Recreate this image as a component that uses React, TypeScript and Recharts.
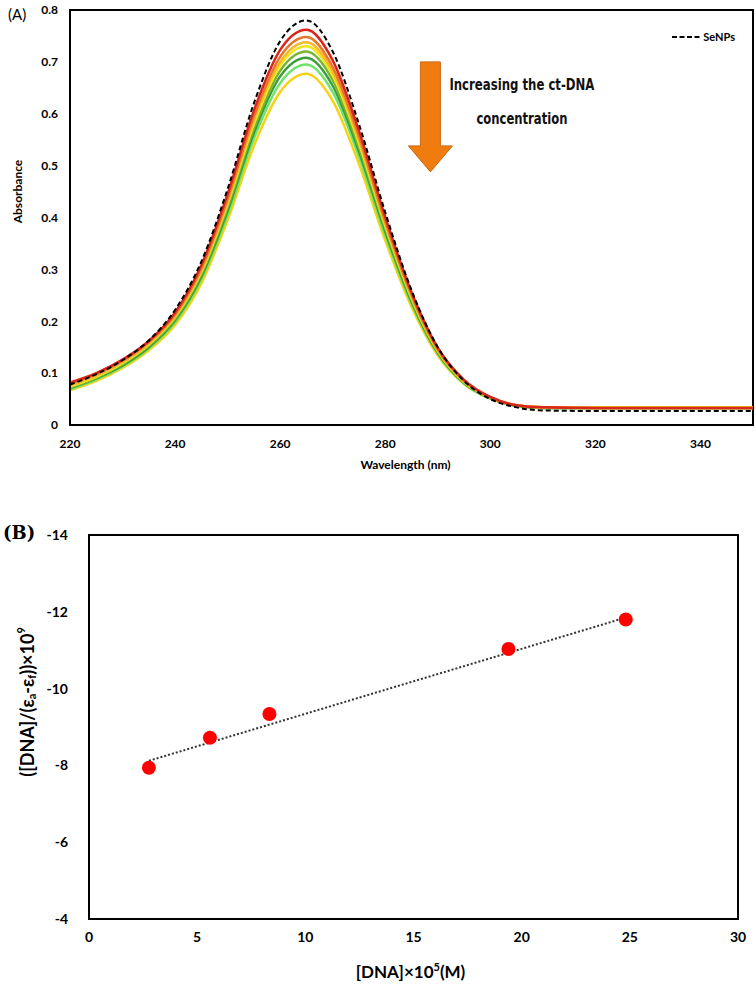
import React from 'react';
import {
  LineChart, Line, XAxis, YAxis, ReferenceArea, ReferenceDot, Legend,
  ComposedChart, Scatter,
} from 'recharts';

// ---------- Panel A data ----------
const wavelengths = [220, 225, 230, 235, 240, 245, 250, 255, 260, 265, 270, 275, 280, 285, 290, 295, 300, 305, 310, 320, 330, 340, 350];
const seNPs =      [0.078, 0.098, 0.125, 0.163, 0.222, 0.315, 0.455, 0.620, 0.740, 0.780, 0.720, 0.580, 0.410, 0.260, 0.150, 0.085, 0.050, 0.034, 0.028, 0.027, 0.027, 0.027, 0.027];
const dna1 =       [0.082, 0.100, 0.126, 0.162, 0.217, 0.308, 0.445, 0.606, 0.723, 0.762, 0.703, 0.567, 0.401, 0.256, 0.149, 0.087, 0.054, 0.038, 0.034, 0.033, 0.033, 0.033, 0.033];
const dna2 =       [0.080, 0.098, 0.124, 0.160, 0.213, 0.302, 0.436, 0.595, 0.710, 0.748, 0.690, 0.556, 0.393, 0.251, 0.146, 0.085, 0.053, 0.038, 0.034, 0.033, 0.033, 0.033, 0.033];
const dna3 =       [0.076, 0.095, 0.121, 0.157, 0.210, 0.298, 0.430, 0.587, 0.700, 0.738, 0.681, 0.549, 0.388, 0.248, 0.144, 0.084, 0.053, 0.038, 0.034, 0.033, 0.033, 0.033, 0.033];
const dna4 =       [0.074, 0.093, 0.119, 0.155, 0.208, 0.295, 0.426, 0.580, 0.693, 0.730, 0.674, 0.543, 0.384, 0.245, 0.143, 0.083, 0.053, 0.038, 0.034, 0.034, 0.034, 0.034, 0.034];
const dna5 =       [0.072, 0.091, 0.117, 0.153, 0.205, 0.291, 0.420, 0.572, 0.683, 0.720, 0.665, 0.535, 0.379, 0.242, 0.141, 0.082, 0.052, 0.037, 0.033, 0.033, 0.033, 0.033, 0.033];
const dna6 =       [0.071, 0.090, 0.115, 0.150, 0.202, 0.286, 0.413, 0.563, 0.672, 0.708, 0.654, 0.527, 0.373, 0.238, 0.139, 0.081, 0.052, 0.037, 0.033, 0.033, 0.033, 0.033, 0.033];
const dna7 =       [0.069, 0.088, 0.113, 0.148, 0.198, 0.281, 0.405, 0.552, 0.659, 0.695, 0.642, 0.517, 0.366, 0.234, 0.137, 0.080, 0.051, 0.037, 0.033, 0.033, 0.033, 0.033, 0.033];
const dna8 =       [0.067, 0.085, 0.110, 0.144, 0.193, 0.273, 0.395, 0.538, 0.642, 0.677, 0.625, 0.503, 0.356, 0.228, 0.134, 0.079, 0.051, 0.037, 0.034, 0.034, 0.034, 0.034, 0.034];

const wlTicks = [220, 240, 260, 280, 300, 320, 340];
const absTicks = [0, 0.1, 0.2, 0.3, 0.4, 0.5, 0.6, 0.7, 0.8];

const seriesA = [
  { key: 'dna8', values: dna8, color: '#f5d312' },
  { key: 'dna7', values: dna7, color: '#6fe36a' },
  { key: 'dna6', values: dna6, color: '#3c9e3a' },
  { key: 'dna5', values: dna5, color: '#78b534' },
  { key: 'dna4', values: dna4, color: '#f2e41e' },
  { key: 'dna3', values: dna3, color: '#f5b92a' },
  { key: 'dna2', values: dna2, color: '#e8772c' },
  { key: 'dna1', values: dna1, color: '#d8261c' },
];

const dataA = wavelengths.map((wl, i) => {
  const row: any = { wl, seNPs: seNPs[i] };
  seriesA.forEach((s) => { row[s.key] = s.values[i]; });
  return row;
});

// ---------- Panel B data ----------
const dnaConc = [2.77, 5.59, 8.34, 19.39, 24.81];
const ratioVals = [-7.94, -8.72, -9.34, -11.03, -11.80];
const trendX = [2.77, 24.81];
const trendY = [-8.12, -11.85];
const concTicks = [0, 5, 10, 15, 20, 25, 30];
const ratioTicks = [-14, -12, -10, -8, -6, -4];

const dataB = dnaConc.map((x, i) => ({ x, y: ratioVals[i] }));
const trendB = trendX.map((x, i) => ({ x, y: trendY[i] }));

const sans = 'Lato, "Open Sans", sans-serif';

const ArrowShape = (props: any) => {
  const { cx, cy } = props;
  if (cx == null || cy == null) return null;
  const pts = [
    [cx - 10, cy], [cx + 10, cy], [cx + 10, cy + 84], [cx + 22, cy + 84],
    [cx, cy + 110], [cx - 22, cy + 84], [cx - 10, cy + 84],
  ].map((p) => p.join(',')).join(' ');
  return (
    <g>
      <polygon points={pts} fill="#f07c0f" stroke="#c96a12" strokeWidth={1} />
      <text x={cx + 19} y={cy + 28} fontFamily='"Liberation Sans Narrow", "DejaVu Sans Condensed", Arial, sans-serif' fontWeight={700} fontSize={15} fill="#111" textLength={145} lengthAdjust="spacingAndGlyphs">Increasing the ct-DNA</text>
      <text x={cx + 46} y={cy + 62} fontFamily='"Liberation Sans Narrow", "DejaVu Sans Condensed", Arial, sans-serif' fontWeight={700} fontSize={15} fill="#111" textLength={91} lengthAdjust="spacingAndGlyphs">concentration</text>
    </g>
  );
};

const LegendA = () => (
  <div style={{ display: 'flex', alignItems: 'center', fontFamily: sans, fontWeight: 700, fontSize: 11, color: '#000' }}>
    <svg width={30} height={6} style={{ marginRight: 1 }}>
      <line x1={0} y1={3} x2={30} y2={3} stroke="#000" strokeWidth={2} strokeDasharray="5 2.5" />
    </svg>
    <span>SeNPs</span>
  </div>
);

export default function App() {
  return (
    <div style={{ position: 'absolute', left: 0, top: 0, width: 755, height: 986, background: '#fff', overflow: 'hidden' }}>
      <div style={{ position: 'absolute', left: 8, top: 5, fontFamily: sans, fontSize: 15, color: '#000' }}>(A)</div>
      <div style={{ position: 'absolute', left: 3, top: 522, fontFamily: '"DejaVu Serif", "Liberation Serif", serif', fontWeight: 700, fontSize: 18, color: '#000' }}>(B)</div>

      <div style={{ position: 'absolute', left: 0, top: 0 }}>
        <LineChart width={755} height={490} data={dataA} margin={{ top: 10, right: 2, left: 0, bottom: 0 }}>
          <XAxis
            dataKey="wl" type="number" domain={[220, 350]} ticks={wlTicks} allowDataOverflow
            tickLine={false} tickMargin={8} height={52}
            axisLine={{ stroke: '#000', strokeWidth: 2 }}
            tick={{ fontSize: 12, fontWeight: 700, fill: '#000', fontFamily: sans }}
            label={{
              content: (p: any) => {
                const vb = p.viewBox || { x: 70, y: 438, width: 683, height: 52 };
                return <text x={vb.x + vb.width / 2 - 6} y={vb.y + 44} textAnchor="middle" fontFamily={sans} fontWeight={700} fontSize={12} fill="#000">Wavelength (nm)</text>;
              },
            }}
          />
          <YAxis
            type="number" domain={[0, 0.8]} ticks={absTicks} allowDataOverflow width={70}
            tickLine={false} tickMargin={6}
            axisLine={{ stroke: '#000', strokeWidth: 2 }}
            tick={{ fontSize: 12, fontWeight: 700, fill: '#000', fontFamily: sans }}
            label={{
              content: (p: any) => {
                const vb = p.viewBox || { x: 0, y: 10, width: 70, height: 428 };
                const x = vb.x + 17;
                const y = vb.y + vb.height / 2 - 26;
                return <text x={x} y={y} transform={`rotate(-90, ${x}, ${y})`} textAnchor="middle" dominantBaseline="central" fontFamily={sans} fontWeight={700} fontSize={12} fill="#000">Absorbance</text>;
              },
            }}
          />
          <ReferenceArea x1={220} x2={350} y1={0} y2={0.8} fill="none" fillOpacity={0} stroke="#000" strokeWidth={2} />
          {seriesA.map((s) => (
            <Line key={s.key} dataKey={s.key} type="monotone" stroke={s.color} strokeWidth={2.5} dot={false} isAnimationActive={false} legendType="none" />
          ))}
          <Line dataKey="seNPs" name="SeNPs" type="monotone" stroke="#000" strokeWidth={2} strokeDasharray="5 3" dot={false} isAnimationActive={false} />
          <ReferenceDot x={288.6} y={0.70} r={0} shape={ArrowShape} ifOverflow="visible" />
          <Legend content={LegendA} wrapperStyle={{ position: 'absolute', top: 30, right: 20, left: 'auto', width: 'auto' }} />
        </LineChart>
      </div>

      <div style={{ position: 'absolute', left: 0, top: 500 }}>
        <ComposedChart width={755} height={486} margin={{ top: 35, right: 17, left: 0, bottom: 0 }}>
          <XAxis
            dataKey="x" type="number" domain={[0, 30]} ticks={concTicks} allowDataOverflow
            tickLine={false} tickMargin={7} height={67}
            axisLine={{ stroke: '#000', strokeWidth: 2 }}
            tick={{ fontSize: 14, fontWeight: 700, fill: '#000', fontFamily: sans }}
            label={{
              content: (p: any) => {
                const vb = p.viewBox || { x: 89, y: 419, width: 649, height: 67 };
                return (
                  <text x={vb.x + vb.width / 2 - 3} y={vb.y + 59} textAnchor="middle" fontFamily={sans} fontWeight={700} fontSize={17} fill="#000">
                    [DNA]×10<tspan dy={-7} fontSize={11}>5</tspan><tspan dy={7}>(M)</tspan>
                  </text>
                );
              },
            }}
          />
          <YAxis
            dataKey="y" type="number" domain={[-14, -4]} ticks={ratioTicks} reversed allowDataOverflow width={89}
            tickLine={false} tickMargin={15}
            axisLine={{ stroke: '#000', strokeWidth: 2 }}
            tick={{ fontSize: 14, fontWeight: 700, fill: '#000', fontFamily: sans }}
            label={{
              content: (p: any) => {
                const vb = p.viewBox || { x: 0, y: 35, width: 89, height: 384 };
                const x = vb.x + 27;
                const y = vb.y + vb.height / 2 - 25;
                return (
                  <text x={x} y={y} transform={`rotate(-90, ${x}, ${y})`} textAnchor="middle" dominantBaseline="central" fontFamily={sans} fontWeight={700} fontSize={18} fill="#000">
                    ([DNA]/(ε<tspan dy={4} fontSize={11}>a</tspan><tspan dy={-4}>-ε</tspan><tspan dy={4} fontSize={11}>f</tspan><tspan dy={-4}>))×10</tspan><tspan dy={-7} fontSize={11}>9</tspan>
                  </text>
                );
              },
            }}
          />
          <ReferenceArea x1={0} x2={30} y1={-14} y2={-4} fill="none" fillOpacity={0} stroke="#000" strokeWidth={2} />
          <Line data={trendB} dataKey="y" type="linear" stroke="#333" strokeWidth={2} strokeDasharray="2 2" dot={false} isAnimationActive={false} />
          <Scatter data={dataB} dataKey="y" fill="#ff0000" isAnimationActive={false}
            shape={(p: any) => <circle cx={p.cx} cy={p.cy} r={7} fill="#ff0000" />} />
        </ComposedChart>
      </div>
    </div>
  );
}
